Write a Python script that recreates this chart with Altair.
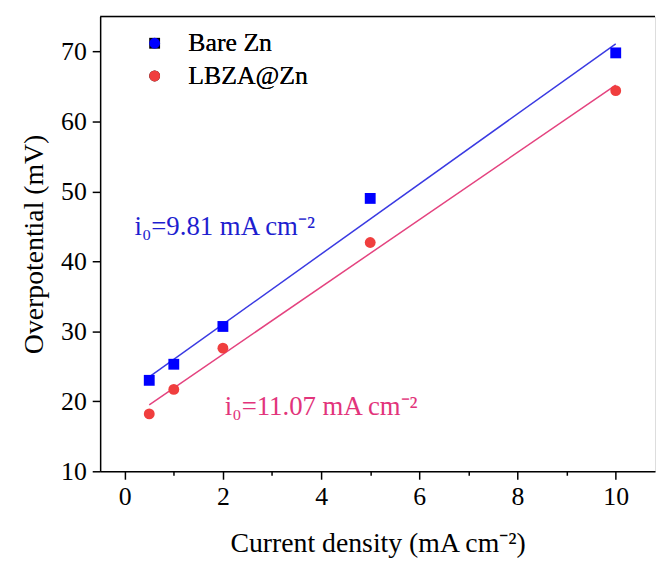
import altair as alt
import pandas as pd

# ---- data ----
current = [0.5, 1, 2, 5, 10]
bare_zn = [23.0, 25.3, 30.7, 49.0, 69.8]
lbza_zn = [18.2, 21.7, 27.6, 42.7, 64.4]
series = ["Bare Zn", "LBZA@Zn"]

fit_x = [0.5, 10]
bare_fit = [23.5, 71.1]
lbza_fit = [19.5, 65.2]

ann_text = ["i₀=9.81 mA cm⁻²", "i₀=11.07 mA cm⁻²"]
ann_x = [0.2, 2.04]
ann_y = [43.7, 18.0]
ann_color = ["#1E1ECF", "#E2347B"]

x_ticks = list(range(0, 11))
y_ticks = list(range(10, 75, 5))

FONT = "Liberation Serif"
W, H = 560, 459

pts = pd.DataFrame(
    [{"x": c, "y": v, "s": series[0]} for c, v in zip(current, bare_zn)]
    + [{"x": c, "y": v, "s": series[1]} for c, v in zip(current, lbza_zn)]
)
fits = pd.DataFrame(
    [{"x": c, "y": v, "s": series[0]} for c, v in zip(fit_x, bare_fit)]
    + [{"x": c, "y": v, "s": series[1]} for c, v in zip(fit_x, lbza_fit)]
)
ann = pd.DataFrame({"x": ann_x, "y": ann_y, "t": ann_text, "c": ann_color})

xscale = alt.Scale(domain=[-0.5, 10.8], nice=False, zero=False)
yscale = alt.Scale(domain=[10, 75], nice=False, zero=False)

xaxis = alt.Axis(
    title="Current density (mA cm⁻²)",
    values=x_ticks,
    labelExpr="datum.value % 2 === 0 ? datum.label : ''",
    tickSize={"condition": {"test": "datum.value % 2 === 0", "value": 8}, "value": 4},
    grid=False,
    labelFont=FONT, labelFontSize=26, labelColor="black", labelPadding=5,
    titleFont=FONT, titleFontSize=28, titleFontWeight="normal", titleColor="black",
    titlePadding=20,
    domainColor="black", domainWidth=1.5, tickColor="black", tickWidth=1.5,
)
yaxis = alt.Axis(
    title="Overpotential (mV)",
    values=y_ticks,
    labelExpr="datum.value % 10 === 0 ? datum.label : ''",
    tickSize={"condition": {"test": "datum.value % 10 === 0", "value": 8}, "value": 4},
    grid=False,
    labelFont=FONT, labelFontSize=26, labelColor="black", labelPadding=6,
    titleFont=FONT, titleFontSize=28, titleFontWeight="normal", titleColor="black",
    titlePadding=12,
    domainColor="black", domainWidth=1.5, tickColor="black", tickWidth=1.5,
)

color_scale = alt.Scale(domain=series, range=["#0000FF", "#F03E3E"])
shape_scale = alt.Scale(domain=series, range=["square", "circle"])
line_scale = alt.Scale(domain=series, range=["#3A3AE2", "#E4437F"])

legend = alt.Legend(
    title=None, orient="none", legendX=42, legendY=14,
    labelFont=FONT, labelFontSize=26, labelColor="black",
    symbolSize=120, symbolStrokeWidth=0, labelOffset=21, rowPadding=7,
    padding=0,
)

lines = alt.Chart(fits).mark_line(strokeWidth=1.5).encode(
    x=alt.X("x:Q", scale=xscale, axis=xaxis),
    y=alt.Y("y:Q", scale=yscale, axis=yaxis),
    color=alt.Color("s:N", scale=line_scale, legend=None),
    detail="s:N",
)

points = alt.Chart(pts).mark_point(filled=True, opacity=1, size=120).encode(
    x=alt.X("x:Q", scale=xscale),
    y=alt.Y("y:Q", scale=yscale),
    color=alt.Color("s:N", scale=color_scale, legend=legend),
    shape=alt.Shape("s:N", scale=shape_scale, legend=legend),
)

labels = alt.Chart(ann).mark_text(
    font=FONT, fontSize=27, align="left", baseline="alphabetic"
).encode(
    x=alt.X("x:Q", scale=xscale),
    y=alt.Y("y:Q", scale=yscale),
    text="t:N",
    color=alt.Color("c:N", scale=None),
)

top = alt.Chart(pd.DataFrame({"a": [0]})).mark_rule(color="black", strokeWidth=1.5).encode(
    x=alt.value(0), x2=alt.value(W), y=alt.value(0)
)

chart = (
    alt.layer(lines, points, labels, top)
    .resolve_scale(color="independent")
    .properties(width=W, height=H, padding={"left": 13, "top": 5, "right": 0, "bottom": 5})
    .configure_view(stroke=None)
    .configure(background="white")
)

chart.save("out.html", embed_options={"renderer": "svg", "actions": False})
